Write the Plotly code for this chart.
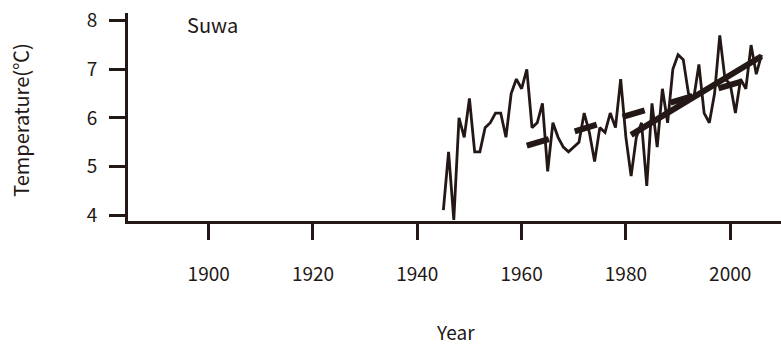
import plotly.graph_objects as go

# Annual mean temperature at Suwa
years = list(range(1945, 2007))
temps = [4.1, 5.3, 3.9, 6.0, 5.6, 6.4, 5.3, 5.3, 5.8, 5.9,
         6.1, 6.1, 5.6, 6.5, 6.8, 6.6, 7.0, 5.8, 5.9, 6.3,
         4.9, 5.9, 5.6, 5.4, 5.3, 5.4, 5.5, 6.1, 5.7, 5.1,
         5.8, 5.7, 6.1, 5.8, 6.8, 5.6, 4.8, 5.6, 5.9, 4.6,
         6.3, 5.4, 6.6, 5.9, 7.0, 7.3, 7.2, 6.5, 6.4, 7.1,
         6.1, 5.9, 6.5, 7.7, 6.8, 6.7, 6.1, 6.8, 6.6, 7.5,
         6.9, 7.3]

# Linear trends (end points)
long_trend_years = [1961, 2005]
long_trend_vals = [5.43, 6.84]
recent_trend_years = [1981, 2006]
recent_trend_vals = [5.65, 7.27]

x_ticks = [1900, 1920, 1940, 1960, 1980, 2000]
y_ticks = [4, 5, 6, 7, 8]

INK = "#231815"
FONT = "Noto Sans CJK JP"

fig = go.Figure()
fig.add_trace(go.Scatter(x=years, y=temps, mode="lines",
                         line=dict(color=INK, width=2.8)))
fig.add_trace(go.Scatter(x=long_trend_years, y=long_trend_vals, mode="lines",
                         line=dict(color=INK, width=6, dash="23px,27px")))
fig.add_trace(go.Scatter(x=recent_trend_years, y=recent_trend_vals, mode="lines",
                         line=dict(color=INK, width=6)))

axis_common = dict(
    showgrid=False, zeroline=False, showline=True, linewidth=3, linecolor=INK,
    ticks="outside", ticklen=16, tickwidth=2.5, tickcolor=INK,
    tickfont=dict(family=FONT, size=19, color=INK),
)

fig.update_layout(
    width=781, height=344,
    margin=dict(l=128, r=0, t=13, b=123, pad=0),
    paper_bgcolor="white", plot_bgcolor="white",
    showlegend=False,
    xaxis=dict(range=[1884.53, 2009.74], tickvals=x_ticks,
               ticklabelstandoff=18, **axis_common),
    yaxis=dict(range=[3.877, 8.16], tickvals=y_ticks,
               ticklabelstandoff=8, **axis_common),
    annotations=[
        dict(text="Suwa", xref="paper", yref="paper", x=0.087, y=0.947,
             xanchor="left", yanchor="middle", showarrow=False,
             font=dict(family=FONT, size=20, color=INK)),
        dict(text="Temperature(℃)", xref="paper", yref="paper", x=-0.164, y=0.486,
             xanchor="center", yanchor="middle", textangle=-90, showarrow=False,
             font=dict(family=FONT, size=20, color=INK)),
        dict(text="Year", xref="paper", yref="paper", x=0.5008, y=-0.53,
             xanchor="center", yanchor="middle", showarrow=False,
             font=dict(family=FONT, size=19, color=INK)),
    ],
)

fig.write_html("out.html")
